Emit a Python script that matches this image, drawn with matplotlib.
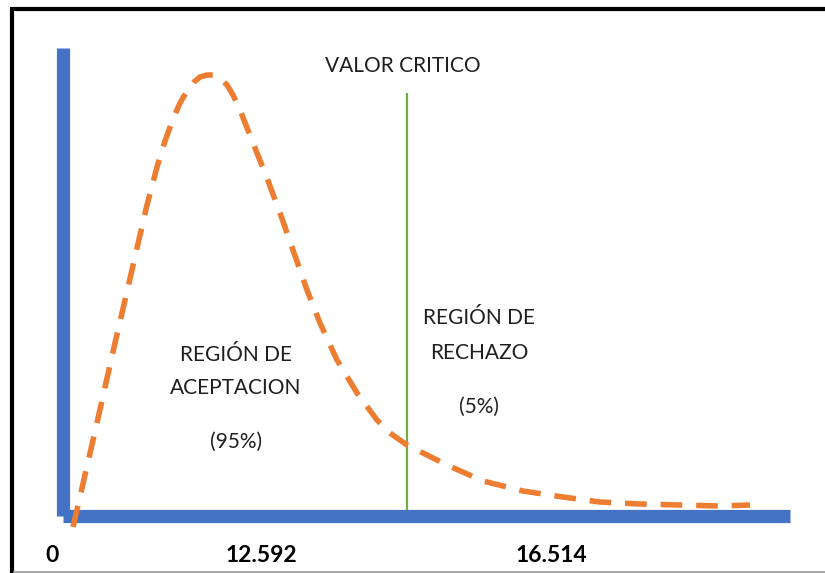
import matplotlib
matplotlib.use('Agg')

import matplotlib.pyplot as plt
from matplotlib.patches import Rectangle
from matplotlib.lines import Line2D

# curve (units = pixels from the axes corner)
curve_x = [10, 17, 24, 31, 38, 45, 52, 59, 66, 74, 84, 94, 102, 110, 117,
           124, 131, 137, 144, 150, 157, 164, 170, 177, 190, 204, 217, 230,
           244, 257, 274, 294, 314, 327, 344, 360, 384, 420, 460, 500, 537,
           577, 617, 657, 687]
curve_y = [-11, 19, 50, 80, 111, 142, 173, 203, 233, 268, 311, 349, 375, 397,
           413, 425, 434, 439, 441, 441, 438, 431, 421, 406, 373, 338, 303,
           266, 226, 193, 156, 123, 96, 83, 71, 63, 51, 35, 25, 19, 14, 12,
           11, 10, 11]
critical_x = 344
critical_top = 423

labels_bottom = ['0', '12.592', '16.514']

fig = plt.figure(figsize=(8.25, 5.73), dpi=100)
W, H = 825.0, 573.0

# axes corner sits at (63, 516) px, goes up to y=48 and right to x=790
ax = fig.add_axes([63 / W, 1 - 516 / H, (790 - 63) / W, (516 - 48) / H])
ax.set_xlim(0, 790 - 63)
ax.set_ylim(0, 516 - 48)
ax.set_xticks([])
ax.set_yticks([])
for s in ['top', 'right']:
    ax.spines[s].set_visible(False)
for s in ['left', 'bottom']:
    ax.spines[s].set_color('#4472C4')
    ax.spines[s].set_linewidth(9.5)
    ax.spines[s].set_capstyle('butt')

ax.plot(curve_x, curve_y, color='#ED7D31', lw=4.0, ls=(0, (3.9, 2.5)),
        solid_joinstyle='round', dash_joinstyle='round',
        clip_on=False, zorder=5)
ax.vlines(critical_x, 6, critical_top, color='#70AD47', lw=1.6, zorder=4)

txt = dict(family='Lato', color='#1f1f1f', ha='center', va='center')
ax.text(403 - 63, 516 - 66, 'VALOR CRITICO', fontsize=15, **txt)
ax.text(236 - 63, 516 - 355, 'REGIÓN DE', fontsize=15, **txt)
ax.text(236 - 63, 516 - 388, 'ACEPTACION', fontsize=15, **txt)
ax.text(236 - 63, 516 - 442, '(95%)', fontsize=15, **txt)
ax.text(479 - 63, 516 - 318, 'REGIÓN DE', fontsize=15, **txt)
ax.text(479 - 63, 516 - 353, 'RECHAZO', fontsize=15, **txt)
ax.text(479 - 63, 516 - 407, '(5%)', fontsize=15, **txt)

for lab, px in zip(labels_bottom, [52, 261, 551]):
    fig.text(px / W, 1 - 555 / H, lab, family='Lato', fontsize=16.5,
             fontweight='bold', color='black', ha='center', va='center')

# frame round the picture (cut off on the right)
fig.patches.append(Rectangle((12 / W, -0.1), 1.0, 1.1 - 9 / H, transform=fig.transFigure,
                             fill=False, edgecolor='black', lw=3))
fig.lines.append(Line2D([14 / W, 1], [1 - 571.5 / H] * 2, transform=fig.transFigure,
                        color='#9a9a9a', lw=1.2))

fig.savefig('out.png', dpi=100, facecolor='white')
